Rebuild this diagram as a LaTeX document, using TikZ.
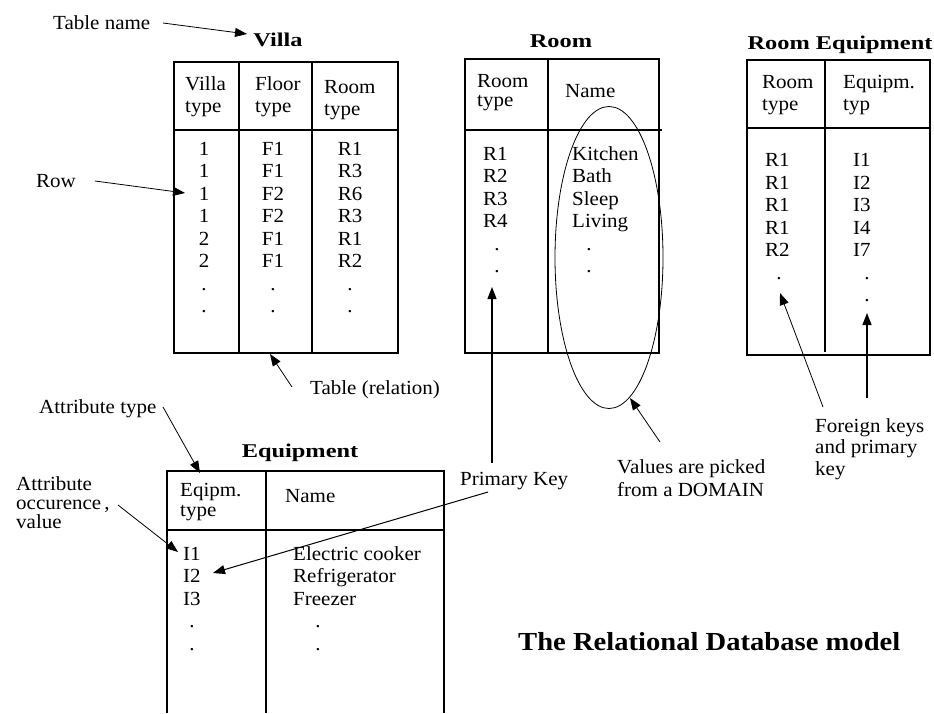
\documentclass[tikz,border=0pt]{standalone}
\usepackage{fontspec}
\setmainfont{Liberation Serif}[FakeStretch=1.05]
\newfontfamily\headfont{Liberation Serif}[FakeStretch=1.25]
\newfontfamily\modelfont{Liberation Serif}[FakeStretch=1.1]
\usetikzlibrary{arrows.meta}

\begin{document}
\begin{tikzpicture}[x=1pt,y=-1pt,
  txt/.style={inner sep=0pt, anchor=base west, font=\fontsize{20}{22}\selectfont},
  ctxt/.style={txt, anchor=base},
  ttl/.style={inner sep=0pt, anchor=base, font=\headfont\bfseries\fontsize{19.5}{22}\selectfont},
  bigttl/.style={inner sep=0pt, anchor=base west, font=\modelfont\bfseries\fontsize{26}{30}\selectfont},
  frame/.style={line width=1.3pt},
  headrule/.style={line width=2.6pt},
  thinline/.style={line width=0.8pt},
  lbl arrow/.style={line width=0.8pt, -{Triangle[length=12pt,width=9pt]}},
  key arrow/.style={line width=1.3pt, -{Triangle[length=12pt,width=9pt]}}]
\useasboundingbox (0,0) rectangle (934,713);

% ---------- table: Villa ----------
\node[ttl] (villa-title) at (278,46) {Villa};
\draw[frame] (174,62) rectangle (398,353);
\draw[frame] (239,62) -- (239,353) (312,62) -- (312,353);
\draw[headrule] (174,130) -- (398,130);
\node[txt] (villa-h1a) at (185,90.5) {Villa};
\node[txt] (villa-h1b) at (185,112.5) {type};
\node[txt] (villa-h2a) at (255,90.5) {Floor};
\node[txt] (villa-h2b) at (255,112.5) {type};
\node[txt] (villa-h3a) at (324,93) {Room};
\node[txt] (villa-h3b) at (324,115) {type};
\foreach \a/\b/\c [count=\i from 0] in {1/F1/R1,1/F1/R3,1/F2/R6,1/F2/R3,2/F1/R1,2/F1/R2,././.,././.}{
  \node[ctxt] (villa-a\i) at (204,155+22.5*\i) {\a};
  \node[ctxt] (villa-b\i) at (273,155+22.5*\i) {\b};
  \node[ctxt] (villa-c\i) at (350,155+22.5*\i) {\c};
}

% ---------- table: Room ----------
\node[ttl] (room-title) at (561,47) {Room};
\draw[frame] (465,59) rectangle (659,353);
\draw[frame] (548,59) -- (548,353);
\draw[headrule] (465,130) -- (662,130);
\node[txt] (room-h1a) at (477,87.5) {Room};
\node[txt] (room-h1b) at (477,106) {type};
\node[txt] (room-h2) at (565,97) {Name};
\foreach \a/\b [count=\i from 0] in {R1/Kitchen,R2/Bath,R3/Sleep,R4/Living}{
  \node[txt] (room-a\i) at (483,160+22.5*\i) {\a};
  \node[txt] (room-b\i) at (572,160+22.5*\i) {\b};
}
\node[ctxt] (room-d1) at (497,250) {.};
\node[ctxt] (room-d2) at (497,272) {.};
\node[ctxt] (room-d3) at (589,250) {.};
\node[ctxt] (room-d4) at (589,272) {.};
% domain of the Name column
\draw[thinline] (609,257.5) ellipse [x radius=54pt, y radius=151pt];

% ---------- table: Room Equipment ----------
\node[ttl] (re-title) at (840,49) {Room Equipment};
\draw[frame] (747,60) rectangle (930,355);
\draw[frame] (825,60) -- (825,352);
\draw[headrule] (747,128) -- (930,128);
\node[txt] (re-h1a) at (762,88) {Room};
\node[txt] (re-h1b) at (762,110) {type};
\node[txt] (re-h2a) at (843,88) {Equipm.};
\node[txt] (re-h2b) at (843,110) {typ};
\foreach \a/\b [count=\i from 0] in {R1/I1,R1/I2,R1/I3,R1/I4,R2/I7}{
  \node[txt] (re-a\i) at (765,166.5+22.5*\i) {\a};
  \node[txt] (re-b\i) at (853,166.5+22.5*\i) {\b};
}
\node[ctxt] (re-d1) at (779,279) {.};
\node[ctxt] (re-d2) at (867,279) {.};
\node[ctxt] (re-d3) at (867,301.5) {.};

% ---------- table: Equipment (open at the bottom) ----------
\node[ttl] (eq-title) at (300,457) {Equipment};
\draw[frame] (167,713) -- (167,471) -- (444,471) -- (444,713);
\draw[frame] (266,471) -- (266,713);
\draw[headrule] (167,530) -- (444,530);
\node[txt] (eq-h1a) at (180,496) {Eqipm.};
\node[txt] (eq-h1b) at (180,516) {type};
\node[txt] (eq-h2) at (285,502) {Name};
\foreach \a/\b [count=\i from 0] in {I1/Electric cooker,I2/Refrigerator,I3/Freezer}{
  \node[txt] (eq-a\i) at (183,560+22.5*\i) {\a};
  \node[txt] (eq-b\i) at (293,560+22.5*\i) {\b};
}
\node[ctxt] (eq-d1) at (192,627.5) {.};
\node[ctxt] (eq-d2) at (192,650) {.};
\node[ctxt] (eq-d3) at (318,627.5) {.};
\node[ctxt] (eq-d4) at (318,650) {.};

% ---------- explanatory labels ----------
\node[txt] (tn) at (53,29) {Table name};
\node[txt] (row) at (36,187) {Row};
\node[txt] (rel) at (310,394) {Table (relation)};
\node[txt] (at) at (39,413) {Attribute type};
\node[txt] (ao1) at (16,490) {Attribute};
\node[txt] (ao2) at (16,509) {occurence\kern3pt,};
\node[txt] (ao3) at (16,528) {value};
\node[txt] (pk) at (460,485) {Primary Key};
\node[txt] (dom1) at (617,473) {Values are picked};
\node[txt] (dom2) at (617,496) {from a DOMAIN};
\node[txt] (fk1) at (815,432) {Foreign keys};
\node[txt] (fk2) at (815,453.5) {and primary};
\node[txt] (fk3) at (815,475) {key};
\node[bigttl] (model) at (518,650) {The Relational Database model};

% ---------- pointer ends ----------
\coordinate (tn-s) at (163,23);   \coordinate (tn-t) at (247,34);
\coordinate (row-s) at (95,181);  \coordinate (row-t) at (185,193);
\coordinate (rel-s) at (292,387); \coordinate (rel-t) at (270,354);
\coordinate (at-s) at (163,407);  \coordinate (at-t) at (200,473);
\coordinate (ao-s) at (118,505);  \coordinate (ao-t) at (178,552);
\coordinate (pk-s) at (492,463);  \coordinate (pk-t) at (492,287);
\coordinate (pk2-s) at (488,492); \coordinate (pk2-t) at (213,573);
\coordinate (dom-s) at (660,442); \coordinate (dom-t) at (630,398);
\coordinate (fk-s) at (823,407);  \coordinate (fk-t) at (780,293);
\coordinate (fk2-s) at (867,398); \coordinate (fk2-t) at (867,313);

% ---------- pointers ----------
\draw[lbl arrow] (tn-s) -- (tn-t);
\draw[lbl arrow] (row-s) -- (row-t);
\draw[lbl arrow] (rel-s) -- (rel-t);
\draw[lbl arrow] (at-s) -- (at-t);
\draw[lbl arrow] (ao-s) -- (ao-t);
\draw[key arrow] (pk-s) -- (pk-t);
\draw[lbl arrow, line width=1pt] (pk2-s) -- (pk2-t);
\draw[lbl arrow] (dom-s) -- (dom-t);
\draw[lbl arrow] (fk-s) -- (fk-t);
\draw[key arrow] (fk2-s) -- (fk2-t);
\end{tikzpicture}
\end{document}
